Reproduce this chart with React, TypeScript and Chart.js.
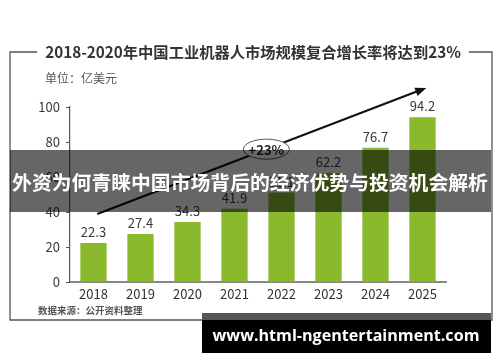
import React, { useEffect, useRef } from "react";
import { Chart, registerables } from "chart.js";

Chart.register(...registerables);

const categories = ["2018", "2019", "2020", "2021", "2022", "2023", "2024", "2025"];
const values = [22.3, 27.4, 34.3, 41.9, 51.1, 62.2, 76.7, 94.2];
const yTicks = [0, 20, 40, 60, 80, 100];
const titleText = "2018-2020年中国工业机器人市场规模复合增长率将达到23%";
const unitText = "单位：亿美元";
const sourceText = "数据来源：公开资料整理";
const growthText = "+23%";
const bannerText = "外资为何青睐中国市场背后的经济优势与投资机会解析";
const watermarkText = "www.html-ngentertainment.com";
// arrow endpoints in data space: [category index offset, value]
const arrowStart = [0.08, 38.9];
const arrowEnd = [7.08, 110.9];

const CJK = '"Noto Sans CJK SC", "Noto Sans", sans-serif';
const GREEN = "#8ab92d";

function fitSize(ctx: CanvasRenderingContext2D, text: string, weight: string, family: string, target: number) {
  ctx.font = `${weight} 100px ${family}`;
  const w = ctx.measureText(text).width;
  return (100 * target) / w;
}

const overlayPlugin = {
  id: "overlay",
  beforeDraw(chart: any) {
    const ctx = chart.ctx;
    ctx.save();
    ctx.fillStyle = "#ffffff";
    ctx.fillRect(0, 0, chart.width, chart.height);
    ctx.restore();
  },
  afterDraw(chart: any) {
    const ctx: CanvasRenderingContext2D = chart.ctx;
    const xs = chart.scales.x;
    const ys = chart.scales.y;
    ctx.save();

    // data labels
    const meta = chart.getDatasetMeta(0);
    ctx.font = `13px ${CJK}`;
    ctx.fillStyle = "#333a44";
    ctx.textAlign = "center";
    ctx.textBaseline = "middle";
    meta.data.forEach((bar: any, i: number) => {
      ctx.fillText(values[i].toFixed(1), bar.x, bar.y - 11);
    });

    // frame with gap for title
    const tSize = fitSize(ctx, titleText, "bold", CJK, 416);
    ctx.font = `bold ${tSize}px ${CJK}`;
    const tw = ctx.measureText(titleText).width;
    const tcx = 253;
    ctx.strokeStyle = "#555";
    ctx.lineWidth = 1.3;
    ctx.beginPath();
    ctx.moveTo(tcx - tw / 2 - 8, 52);
    ctx.lineTo(10, 52);
    ctx.lineTo(10, 320);
    ctx.lineTo(492, 320);
    ctx.lineTo(492, 52);
    ctx.lineTo(tcx + tw / 2 + 8, 52);
    ctx.stroke();

    ctx.fillStyle = "#333";
    ctx.textAlign = "center";
    ctx.textBaseline = "middle";
    ctx.fillText(titleText, tcx, 52);

    ctx.font = `12px ${CJK}`;
    ctx.fillStyle = "#555";
    ctx.textAlign = "left";
    ctx.fillText(unitText, 45, 78);

    ctx.font = `bold 9.5px ${CJK}`;
    ctx.fillStyle = "#555";
    ctx.fillText(sourceText, 38, 310);

    // arrow
    const x0 = xs.getPixelForValue(arrowStart[0]);
    const y0 = ys.getPixelForValue(arrowStart[1]);
    const x1 = xs.getPixelForValue(arrowEnd[0]);
    const y1 = ys.getPixelForValue(arrowEnd[1]);
    const ang = Math.atan2(y1 - y0, x1 - x0);
    const headLen = 11;
    ctx.strokeStyle = "#111";
    ctx.fillStyle = "#111";
    ctx.lineWidth = 2.2;
    ctx.beginPath();
    ctx.moveTo(x0, y0);
    ctx.lineTo(x1 - headLen * 0.8 * Math.cos(ang), y1 - headLen * 0.8 * Math.sin(ang));
    ctx.stroke();
    ctx.beginPath();
    ctx.moveTo(x1, y1);
    ctx.lineTo(x1 - headLen * Math.cos(ang) + 4.5 * Math.sin(ang), y1 - headLen * Math.sin(ang) - 4.5 * Math.cos(ang));
    ctx.lineTo(x1 - headLen * Math.cos(ang) - 4.5 * Math.sin(ang), y1 - headLen * Math.sin(ang) + 4.5 * Math.cos(ang));
    ctx.closePath();
    ctx.fill();

    // ellipse label on the arrow
    const t = 0.514;
    const ex = x0 + (x1 - x0) * t;
    const ey = y0 + (y1 - y0) * t;
    ctx.beginPath();
    ctx.ellipse(ex, ey, 23, 10, 0, 0, Math.PI * 2);
    ctx.fillStyle = "#fff";
    ctx.fill();
    ctx.strokeStyle = "#555";
    ctx.lineWidth = 1;
    ctx.stroke();
    ctx.fillStyle = "#222";
    ctx.font = `bold 13px ${CJK}`;
    ctx.textAlign = "center";
    ctx.fillText(growthText, ex, ey + 0.5);

    // banner overlay
    ctx.fillStyle = "rgba(0,0,0,0.6)";
    ctx.fillRect(10, 150, 481, 62);
    const bSize = fitSize(ctx, bannerText, "bold", CJK, 476);
    ctx.font = `bold ${bSize}px ${CJK}`;
    ctx.fillStyle = "#fff";
    ctx.textAlign = "center";
    ctx.textBaseline = "middle";
    ctx.fillText(bannerText, 250, 182);

    // watermark
    ctx.fillStyle = "#555";
    ctx.fillRect(202, 313, 289, 7);
    ctx.fillStyle = "#000";
    ctx.fillRect(202, 320, 289, 33);
    const wSize = fitSize(ctx, watermarkText, "bold", '"Open Sans", sans-serif', 267);
    ctx.font = `bold ${wSize}px "Open Sans", sans-serif`;
    ctx.fillStyle = "#fff";
    ctx.fillText(watermarkText, 346, 336);

    ctx.restore();
  },
};

export default function App() {
  const ref = useRef<HTMLCanvasElement | null>(null);
  useEffect(() => {
    if (!ref.current) return;
    const chart = new Chart(ref.current, {
      type: "bar",
      data: {
        labels: categories,
        datasets: [
          {
            data: values,
            backgroundColor: GREEN,
            borderWidth: 0,
            barPercentage: 0.56,
            categoryPercentage: 1,
          },
        ],
      },
      options: {
        responsive: false,
        animation: false,
        devicePixelRatio: 1,
        layout: { padding: { left: 0, right: 54, top: 107, bottom: 0 } },
        plugins: { legend: { display: false }, tooltip: { enabled: false }, title: { display: false } },
        scales: {
          x: {
            grid: { display: false, drawTicks: false, tickLength: 0 },
            border: { display: true, color: "#888", width: 2 },
            ticks: { color: "#2e333c", font: { size: 13, family: CJK }, padding: 4 },
            afterFit: (s: any) => {
              s.height = 80;
            },
          },
          y: {
            min: 0,
            max: 100,
            grid: { drawOnChartArea: false, drawTicks: true, tickLength: 4, color: "#555" },
            border: { display: true, color: "#555", width: 1.2 },
            ticks: { color: "#333a44", font: { size: 13, family: CJK }, padding: 6 },
            afterBuildTicks: (s: any) => {
              s.ticks = yTicks.map((v) => ({ value: v }));
            },
            afterFit: (s: any) => {
              s.width = 70;
            },
          },
        },
      },
      plugins: [overlayPlugin],
    } as any);
    return () => chart.destroy();
  }, []);
  return (
    <div style={{ position: "absolute", left: 0, top: 0, width: 500, height: 362, background: "#fff" }}>
      <canvas ref={ref} width={500} height={362} style={{ display: "block" }} />
    </div>
  );
}
